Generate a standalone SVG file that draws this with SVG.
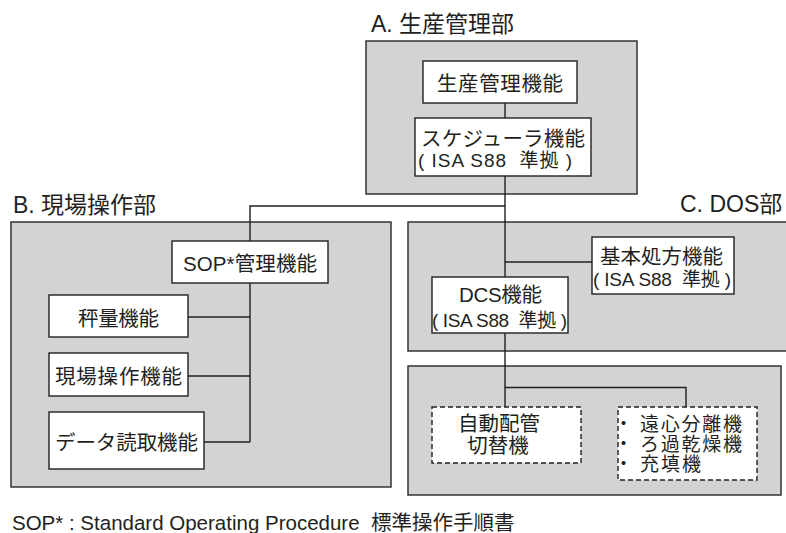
<svg xmlns="http://www.w3.org/2000/svg" width="786" height="533" viewBox="0 0 786 533">
<style>
text{font-family:"Liberation Sans","Noto Sans CJK JP",sans-serif;fill:#231f20;white-space:pre}
.title{font-size:23px}
.t{font-size:20.5px}
.s{font-size:19px}
.e{font-size:19px}
.mid{text-anchor:middle}
.area{fill:#d2d3d5;stroke:#333;stroke-width:1.5}
.node{fill:#fff;stroke:#231f20;stroke-width:1.4}
.dash{fill:#fff;stroke:#231f20;stroke-width:1.4;stroke-dasharray:5 3}
.conn{fill:none;stroke:#231f20;stroke-width:1.4}
</style>
<rect width="786" height="533" fill="#fff"/>

<g id="area-A">
<rect class="area" x="366" y="41" width="271" height="153"/>
<text class="title" x="371" y="32">A. 生産管理部</text>
</g>
<g id="area-B">
<rect class="area" x="11" y="222" width="380" height="265"/>
<text class="title" x="13" y="213">B. 現場操作部</text>
</g>
<g id="area-C">
<rect class="area" x="408" y="222" width="400" height="129"/>
<text class="title" x="680" y="212">C. DOS部</text>
</g>
<g id="area-D">
<rect class="area" x="408" y="366" width="373" height="129"/>
</g>

<g id="connectors">
<path class="conn" d="M505 103V118"/>
<path class="conn" d="M505 176V407"/>
<path class="conn" d="M505 206H250V241"/>
<path class="conn" d="M250 283V442"/>
<path class="conn" d="M188 317H250"/>
<path class="conn" d="M188 376H250"/>
<path class="conn" d="M204 442H250"/>
<path class="conn" d="M505 262H592"/>
<path class="conn" d="M505 387.5H686V407"/>
</g>

<g id="node-seisan">
<rect class="node" x="423" y="61" width="154" height="42"/>
<text class="t" x="437" y="90.5" textLength="126" lengthAdjust="spacing">生産管理機能</text>
</g>
<g id="node-scheduler">
<rect class="node" x="415" y="118" width="176" height="58"/>
<text class="t" x="421" y="145.5" textLength="164" lengthAdjust="spacing">スケジューラ機能</text>
<text class="s" x="418" y="167" textLength="154" lengthAdjust="spacing">( ISA S88  準拠 )</text>
</g>
<g id="node-sop">
<rect class="node" x="172" y="241" width="156" height="42"/>
<text class="t" x="183" y="271" textLength="134" lengthAdjust="spacing">SOP*管理機能</text>
</g>
<g id="node-hyoryo">
<rect class="node" x="49" y="295" width="139" height="42"/>
<text class="t" x="78" y="325.5" textLength="81" lengthAdjust="spacing">秤量機能</text>
</g>
<g id="node-genba">
<rect class="node" x="49" y="353" width="139" height="43"/>
<text class="t" x="55" y="384" textLength="127" lengthAdjust="spacing">現場操作機能</text>
</g>
<g id="node-data">
<rect class="node" x="49" y="412" width="155" height="57"/>
<text class="t" x="55" y="450" textLength="143" lengthAdjust="spacing">データ読取機能</text>
</g>
<g id="node-kihon">
<rect class="node" x="592" y="237" width="142" height="57"/>
<text class="t" x="600" y="263.5" textLength="123" lengthAdjust="spacing">基本処方機能</text>
<text class="s" x="593" y="285.5" textLength="138" lengthAdjust="spacing">( ISA S88  準拠 )</text>
</g>
<g id="node-dcs">
<rect class="node" x="432" y="277" width="136" height="56"/>
<text class="t" x="459" y="301.5" textLength="83" lengthAdjust="spacing">DCS機能</text>
<text class="s" x="432" y="327" textLength="135" lengthAdjust="spacing">( ISA S88  準拠 )</text>
</g>
<g id="node-jido">
<rect class="dash" x="432" y="407" width="149" height="56"/>
<text class="t mid" x="499" y="430.5">自動配管</text>
<text class="t mid" x="498" y="452.5">切替機</text>
</g>
<g id="node-equip">
<rect class="dash" x="618" y="407" width="139" height="73"/>
<text class="e" x="614" y="430.5">・</text>
<text class="e" x="640" y="430.5" textLength="102" lengthAdjust="spacing">遠心分離機</text>
<text class="e" x="614" y="450.5">・</text>
<text class="e" x="640" y="450.5" textLength="102" lengthAdjust="spacing">ろ過乾燥機</text>
<text class="e" x="614" y="470.5">・</text>
<text class="e" x="640" y="470.5" textLength="61" lengthAdjust="spacing">充填機</text>
</g>

<g id="footnote">
<text x="12" y="530" style="font-size:20.5px">SOP* : Standard Operating Procedure  標準操作手順書</text>
</g>
</svg>
